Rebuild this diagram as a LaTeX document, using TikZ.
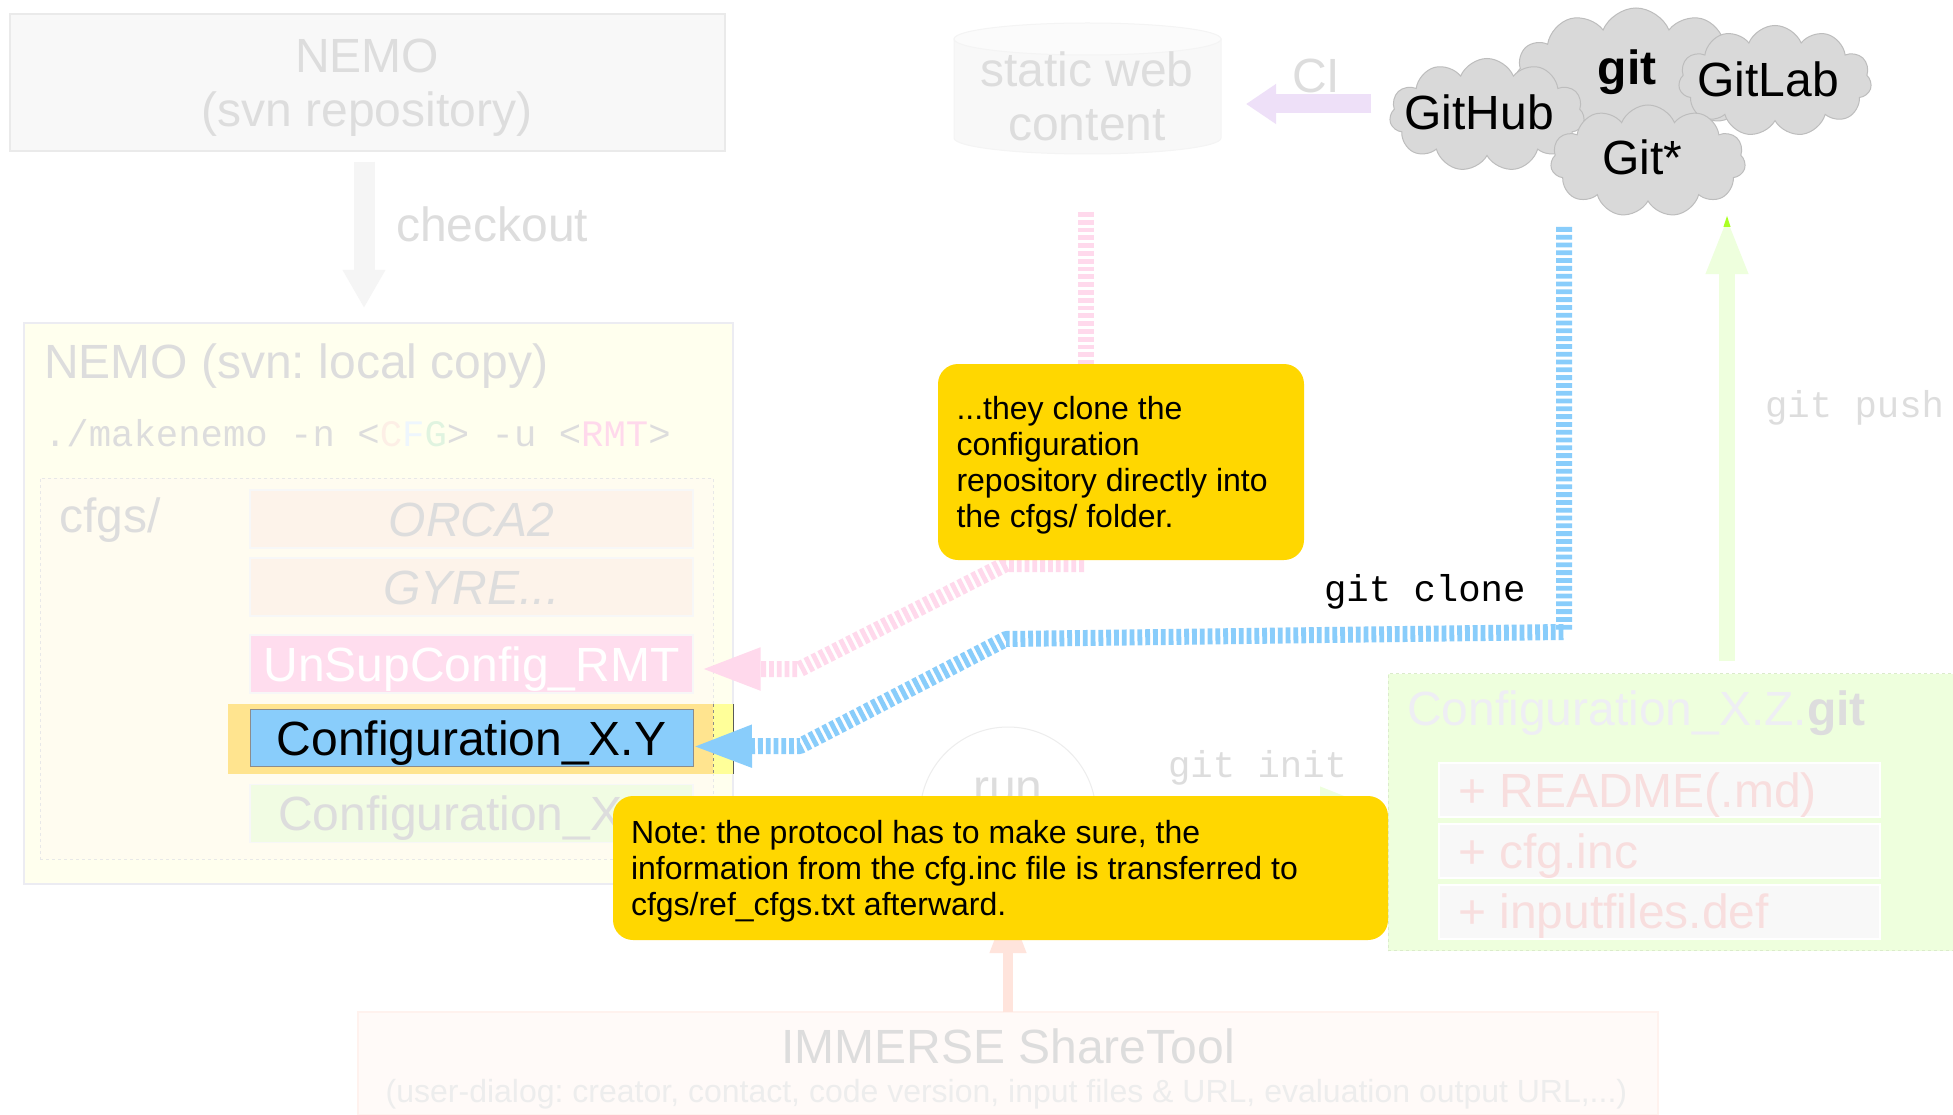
\documentclass[tikz,border=0pt]{standalone}
\usepackage{fontspec}
\setmainfont{Liberation Sans}
\setmonofont{Liberation Mono}
\usetikzlibrary{shapes.symbols,shapes.geometric,arrows.meta}
\newcommand\fL{\fontsize{48}{54}\selectfont}
\newcommand\fM{\fontsize{37.3}{42}\ttfamily\selectfont}
\newcommand\fN{\fontsize{32}{36}\selectfont}
\definecolor{paletxt}{HTML}{DDDDDD}
\definecolor{gold}{HTML}{FFD700}
\definecolor{pinkc}{HTML}{FFD9EC}
\definecolor{bluec}{HTML}{89CDFB}
\definecolor{greenc}{HTML}{EEFFDD}
\definecolor{cfgsfill}{HTML}{FFFCF0}
\definecolor{orcafill}{HTML}{FDF3EA}
\definecolor{unsupfill}{HTML}{FFDDEE}
\definecolor{hlA}{HTML}{FFE48F}
\definecolor{hlB}{HTML}{FFFF99}
\definecolor{xzfill}{HTML}{F1FCE3}
\definecolor{ciarrow}{HTML}{EEE0F8}
\definecolor{repotxt}{HTML}{EEEEF4}
\definecolor{filetxt}{HTML}{F8DEDE}
\definecolor{tipgreen}{HTML}{AAFF22}
\definecolor{immfill}{HTML}{FFFAF8}
\definecolor{immdraw}{HTML}{FFF2EE}
\definecolor{immarrow}{HTML}{FFE4DC}
\definecolor{lC}{HTML}{FDEFE6}
\definecolor{lF}{HTML}{EEF6FD}
\definecolor{lG}{HTML}{E0F4E0}
\definecolor{localfill}{HTML}{FFFFEE}
\definecolor{localdraw}{HTML}{ECECF2}
\definecolor{softbox}{HTML}{F8F8F8}
\definecolor{softline}{HTML}{EAEAEA}
\definecolor{softtop}{HTML}{FBFBFB}
\definecolor{softedge}{HTML}{F4F4F4}
\tikzset{
 x=1pt,y=-1pt,
 boxn/.style={rectangle,inner sep=0pt,outer sep=0pt,anchor=north west},
 lbl/.style={inner sep=0pt,outer sep=0pt,anchor=base,font=\fL,text=paletxt},
 lbll/.style={lbl,anchor=base west},
 mono/.style={lbll,font=\fM},
 subcfg/.style={boxn,minimum width=443pt,minimum height=58pt,line width=1.5pt},
 subfile/.style={boxn,minimum width=441pt,minimum height=54pt,fill=softbox,draw=white,line width=1.5pt},
 cloudn/.style={cloud,cloud puffs=11,cloud puff arc=135,cloud ignores aspect,inner sep=0pt,outer sep=0pt,fill=black!15,draw=black!26,line width=1pt},
 dashline/.style={line width=16pt,dash pattern=on 4.8pt off 3pt,line join=round},
 note/.style={rectangle,rounded corners=20pt,fill=gold,inner sep=0pt,outer sep=0pt},
 notetext/.style={inner sep=0pt,outer sep=0pt,anchor=west,align=left,font=\fN,text=black},
}
\begin{document}
\frenchspacing
\begin{tikzpicture}
\path[use as bounding box] (0,0) rectangle (1953,1115);
\fill[white] (0,0) rectangle (1953,1115);
% NEMO svn
\node[boxn,minimum width=715pt,minimum height=137pt,fill=softbox,draw=softline,line width=2pt] (nemosvn) at (10,14) {};
\node[lbl] (t1) at (367,73) {NEMO};
\node[lbl] (t2) at (367,127) {(svn repository)};
\coordinate (ckA) at (364,162);
\coordinate (ckB) at (364,308);
\draw[line width=21pt,draw=black!4,-{Triangle[length=38pt,width=40pt]}] (ckA) -- (ckB);
\node[lbll] (ck) at (396,242) {checkout};
% local copy
\node[boxn,minimum width=709pt,minimum height=561pt,fill=localfill,draw=localdraw,line width=2.5pt] (local) at (24,323) {};
\node[lbll] (t3) at (44,378) {NEMO (svn: local copy)};
\node[mono] (mk) at (44,446) {./makenemo -n <\textcolor{lC}{C}\textcolor{lF}{F}\textcolor{lG}{G}> -u <\textcolor{pinkc}{RMT}>};
\node[boxn,minimum width=673pt,minimum height=381pt,fill=cfgsfill,draw=black!9,dashed,line width=1pt] (cfgs) at (40,478) {};
\node[lbll] (t4) at (59,532) {cfgs/};
\node[subcfg,fill=orcafill,draw=black!3] (orca) at (250,490) {};
\node[lbl,font=\fL\itshape] (t5) at (471.5,536) {ORCA2};
\node[subcfg,fill=orcafill,draw=black!3] (gyre) at (250,558) {};
\node[lbl,font=\fL\itshape] (t6) at (471.5,604) {GYRE...};
\node[subcfg,fill=unsupfill,draw=black!3] (unsup) at (250,635) {};
\node[lbl,text=white] (t7) at (471.5,681.5) {UnSupConfig\_RMT};
\fill[fill=hlA] (228,704) rectangle (713,774);
\fill[fill=hlB] (713,704) rectangle (734,774);
\draw[black!45,dashed,line width=1pt] (713,704) -- (713,774);
\draw[black!65,line width=1.5pt] (733.5,704) -- (733.5,774);
\node[subcfg,fill=bluec,draw=black!45,line width=1pt,minimum height=57.5pt] (cfgxy) at (250,709) {};
\node[lbl,text=black] (t8) at (471.5,755) {Configuration\_X.Y};
\node[subcfg,fill=xzfill,draw=black!3] (cfgxz) at (250,784.5) {};
\node[lbl] (t9) at (471.5,830) {Configuration\_X.Z};
% cylinder
\path[fill=softbox,draw=softedge,line width=1pt] (954,39) -- (954,138) arc[start angle=180,end angle=360,x radius=133.5pt,y radius=16pt] -- (1221,39) -- cycle;
\path[fill=softtop,draw=softedge,line width=1pt] (1087.5,39) ellipse[x radius=133.5pt,y radius=16pt];
\node[lbl] (t10) at (1087,87) {static web};
\node[lbl] (t11) at (1087,141) {content};
% CI arrow
\coordinate (ciA) at (1371,104);
\coordinate (ciB) at (1246,104);
\node[lbll] (ci) at (1292,93) {CI};
\draw[line width=19pt,draw=ciarrow,-{Triangle[length=30pt,width=38pt]}] (ciA) -- (ciB);
% clouds
\node[cloudn,minimum width=242pt,minimum height=134pt] (cgit) at (1636,75) {};
\node[lbl,text=black,font=\fL\bfseries] (t12) at (1627,85) {git};
\node[cloudn,minimum width=193pt,minimum height=111pt] (clab) at (1775,81) {};
\node[lbl,text=black] (t13) at (1768,97) {GitLab};
\node[cloudn,minimum width=195pt,minimum height=113pt] (chub) at (1487,115) {};
\node[lbl,text=black] (t14) at (1479,130) {GitHub};
\node[cloudn,minimum width=195pt,minimum height=112pt] (cstar) at (1648,161) {};
\node[lbl,text=black] (t15) at (1642,175) {Git*};
% green box
\node[boxn,minimum width=566pt,minimum height=277pt,fill=greenc,draw=black!8!greenc,dashed,line width=1pt] (repo) at (1388,673.5) {};
\node[lbll,text=repotxt] (t16) at (1407,725) {Configuration\_X.Z.\textcolor{paletxt}{\bfseries git}};
\node[subfile] (f1) at (1439,763) {};
\node[subfile] (f2) at (1439,824) {};
\node[subfile] (f3) at (1439,885) {};
\node[lbll,text=filetxt] (t17) at (1458,807) {+ README(.md)};
\node[lbll,text=filetxt] (t18) at (1458,868) {+ cfg.inc};
\node[lbll,text=filetxt] (t19) at (1458,928) {+ inputfiles.def};
% green push arrow
\coordinate (puA) at (1727,661);
\coordinate (puB) at (1727,216);
\draw[line width=16pt,draw=greenc,-{Triangle[length=58pt,width=38pt]}] (puA) -- (puB);
\fill[fill=tipgreen] (1727,216) -- (1730.6,227) -- (1723.4,227) -- cycle;
\node[mono] (gp) at (1765,417) {git push};
% run circle
\node[circle,minimum size=176pt,inner sep=0pt,outer sep=0pt,fill=white,draw=black!7,line width=1pt] (run) at (1008,815) {};
\node[lbl] (t20) at (1008,803) {run};
\coordinate (inA) at (1096,808);
\coordinate (inB) at (1378,808);
\draw[line width=16pt,draw=greenc,-{Triangle[length=58pt,width=38pt]}] (inA) -- (inB);
\node[mono] (gi) at (1168,777) {git init};
% immerse
\node[boxn,minimum width=1300pt,minimum height=103pt,fill=immfill,draw=immdraw,line width=1.5pt] (imm) at (358,1012) {};
\draw[line width=10pt,draw=immarrow,-{Triangle[length=50pt,width=34pt]}] (imm.north) -- (run.south);
\node[lbl] (t21) at (1008,1063) {IMMERSE ShareTool};
\node[lbl,font=\fontsize{32}{38}\selectfont,text=black!7] (t22) at (1006.5,1102) {(user-dialog: creator, contact, code version, input files \& URL, evaluation output URL,...)};
% pink connector
\coordinate (pA) at (1086,212);
\coordinate (pF) at (1086,370);
\coordinate (pB) at (1084,564);
\coordinate (pC) at (1006,564);
\coordinate (pD) at (800,669);
\coordinate (pE) at (699.5,669);
\draw[dashline,draw=pinkc] (pA) -- (pF);
\draw[dashline,draw=pinkc,-{Triangle[length=61pt,width=38pt]}] (pB) -- (pC) -- (pD) -- (pE);
% blue connector
\coordinate (bA) at (1564,227);
\coordinate (bB) at (1564,632);
\coordinate (bC) at (1006,639);
\coordinate (bD) at (800,746);
\coordinate (bE) at (691,746.5);
\draw[dashline,draw=bluec,-{Triangle[length=61pt,width=38pt]}] (bA) -- (bB) -- (bC) -- (bD) -- (bE);
\node[mono,text=black] (gc) at (1324,601) {git clone};
% notes
\node[note,minimum width=366pt,minimum height=196pt] (n1) at (1121,462) {};
\node[notetext] (n1t) at (956.5,465.5) {...they clone the\\configuration\\repository directly into\\the cfgs/ folder.};
\node[note,minimum width=775pt,minimum height=144pt] (n2) at (1000.5,868) {};
\node[notetext] (n2t) at (631,871) {Note: the protocol has to make sure, the\\information from the cfg.inc file is transferred to\\cfgs/ref\_cfgs.txt afterward.};
\end{tikzpicture}
\end{document}
